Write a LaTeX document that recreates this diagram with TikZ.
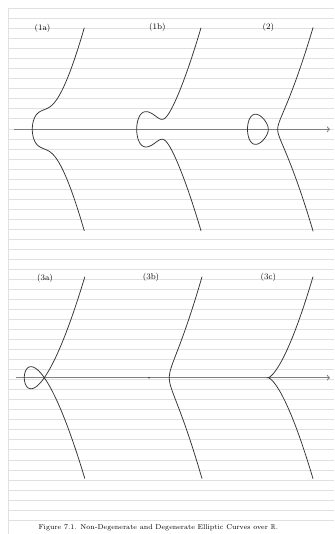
\documentclass[tikz,border=0pt]{standalone}
\usepackage{amsmath, amssymb}
\usepackage{tikz}

\begin{document}
\begin{tikzpicture}[x=1pt,y=-1pt,
    ruling/.style={gray!24,line width=0.7pt},
    axisline/.style={black!50,line width=1.1pt},
    curve/.style={black!80,line width=0.75pt,smooth,samples=150},
    lbl/.style={inner sep=0pt,font=\fontsize{8.4}{10}\selectfont}]
    \useasboundingbox (0,0) rectangle (334,534);
    \fill[white] (0,0) rectangle (334,534);
    % ruled paper
    \foreach \k in {0,...,51}
        \draw[ruling] (8.3,8.5+10.03*\k) -- (334,8.5+10.03*\k);
    \draw[ruling] (8.3,8.5) -- (8.3,534);
    % axes
    \draw[axisline,->] (14,129.3) -- (330,129.3);
    \draw[axisline,->] (16,377.7) -- (330,377.7);
    % (1a) one real root
    \draw[curve] plot[domain=-7.21:7.21] ({32.3+\x*\x},{129.3+0.3723*\x*sqrt((\x*\x-17)*(\x*\x-17)+207)});
    % (1b) one real root, with a neck
    \draw[curve] plot[domain=-8.02:8.02] ({136.7+\x*\x},{129.3+0.3265*\x*sqrt((\x*\x-26)*(\x*\x-26)+36)});
    % (2) three real roots: oval and branch
    \draw[curve] plot[domain=0:180,samples=100] ({247.5+20.8*sin(\x)*sin(\x)},{129.3+0.316*20.8*sin(\x)*cos(\x)*sqrt(30.2-20.8*sin(\x)*sin(\x))});
    \draw[curve] plot[domain=-5.95:5.95] ({277.7+\x*\x},{129.3+0.316*\x*sqrt((30.2+\x*\x)*(9.4+\x*\x))});
    % (3a) node
    \draw[curve] plot[domain=-7.78:7.78] ({24.3+\x*\x},{377.7+0.32*\x*(\x*\x-20)});
    % (3b) isolated point
    \fill[black!80] (149,377.7) circle (0.9pt);
    \draw[curve] plot[domain=-5.72:5.72] ({169.3+\x*\x},{377.7+0.333*\x*(20.3+\x*\x)});
    % (3c) cusp
    \draw[curve] plot[domain=-6.71:6.71] ({268+\x*\x},{377.7+0.3346*\x*\x*\x});
    % labels
    \node[lbl] (l1a) at (42.5,28) {(1a)};
    \node[lbl] (l1b) at (157.3,27.5) {(1b)};
    \node[lbl] (l2) at (268.3,27.5) {(2)};
    \node[lbl] (l3a) at (45,278) {(3a)};
    \node[lbl] (l3b) at (151,277.5) {(3b)};
    \node[lbl] (l3c) at (268.3,277.5) {(3c)};
    \node[lbl,font=\fontsize{7.1}{9}\selectfont] (cap) at (158.3,528) {Figure 7.1. Non-Degenerate and Degenerate Elliptic Curves over $\mathbb{R}$.};
\end{tikzpicture}
\end{document}
